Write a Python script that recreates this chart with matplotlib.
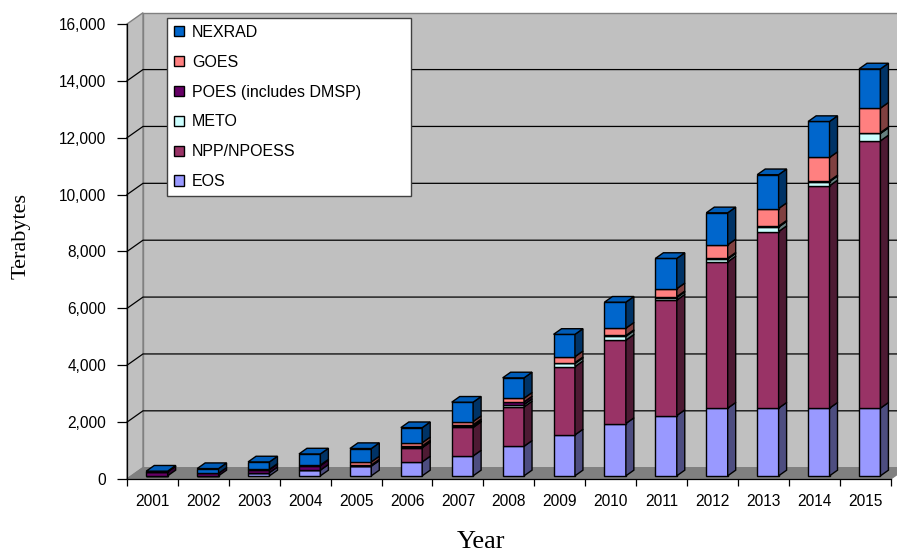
import matplotlib.pyplot as plt
import numpy as np
from matplotlib.patches import Polygon, Patch
from matplotlib.ticker import FuncFormatter

# archive volume per year, terabytes
years = ['2001', '2002', '2003', '2004', '2005', '2006', '2007', '2008',
         '2009', '2010', '2011', '2012', '2013', '2014', '2015']
eos = [0, 0, 110, 200, 340, 490, 700, 1040, 1440, 1840, 2120, 2380, 2380, 2380, 2380]
npp = [0, 0, 0, 0, 0, 500, 1000, 1385, 2400, 2930, 4060, 5145, 6210, 7820, 9400]
meto = [0, 0, 0, 0, 0, 20, 40, 80, 110, 135, 90, 100, 160, 145, 260]
poes = [140, 90, 110, 160, 40, 40, 55, 95, 30, 30, 30, 30, 30, 30, 30]
goes = [0, 0, 10, 20, 110, 115, 115, 130, 210, 257, 280, 470, 620, 820, 860]
nexrad = [25, 165, 260, 390, 470, 530, 680, 715, 785, 915, 1065, 1125, 1190, 1265, 1380]

# bottom to top: name, values, front, side, top colour
series = [
    ('EOS', eos, '#9999FF', '#4D4D80', '#8A8AE6'),
    ('NPP/NPOESS', npp, '#993366', '#4D1A33', '#8A2E5C'),
    ('METO', meto, '#CCFFFF', '#668080', '#B8E6E6'),
    ('POES (includes DMSP)', poes, '#660066', '#330033', '#5C005C'),
    ('GOES', goes, '#FF8080', '#804040', '#E67373'),
    ('NEXRAD', nexrad, '#0066CC', '#003366', '#005CB8'),
]

plt.rcParams['font.family'] = 'Liberation Sans'

fig = plt.figure(figsize=(8.97, 5.54), dpi=100)
ax = fig.add_axes([0.1416, 0.1354, 0.8514, 0.8213])
ax.set_xlim(-0.5, 14.5)
ax.set_ylim(0, 16000)
ax.patch.set_visible(False)

# depth of the 3-D box in data units
DX, DY = 0.314, 397
wall = dict(clip_on=False, lw=1, ec='#808080')
ax.add_patch(Polygon([(-0.5 + DX, DY), (14.5 + DX, DY), (14.5 + DX, 16000 + DY),
                      (-0.5 + DX, 16000 + DY)], fc='#C0C0C0', zorder=0, **wall))
ax.add_patch(Polygon([(-0.5, 0), (-0.5 + DX, DY), (-0.5 + DX, 16000 + DY),
                      (-0.5, 16000)], fc='#C0C0C0', zorder=0, **wall))
ax.add_patch(Polygon([(-0.5, 0), (14.5, 0), (14.5 + DX, DY), (-0.5 + DX, DY)],
                     fc='#808080', zorder=1, **wall))

yt = np.arange(0, 16001, 2000)
for v in yt[1:-1]:
    ax.plot([-0.5, -0.5 + DX, 14.5 + DX], [v, v + DY, v + DY], color='black',
            lw=0.9, clip_on=False, zorder=0.5)

# bars: front face, right side, top
x = np.arange(len(years))
W = 0.42
F0, F1 = 0.28, 0.78
fx, fy = F0 * DX, F0 * DY
bx, by = (F1 - F0) * DX, (F1 - F0) * DY
base = np.zeros(len(years))
top_col = [None] * len(years)
for name, vals, front, side, top in series:
    vals = np.array(vals, float)
    ax.bar(x + fx, vals, W, bottom=base + fy, color=front, edgecolor='black',
           lw=1, zorder=3)
    for i in range(len(x)):
        if vals[i] <= 0:
            continue
        xr = x[i] + fx + W / 2
        b, t = base[i] + fy, base[i] + vals[i] + fy
        ax.add_patch(Polygon([(xr, b), (xr + bx, b + by), (xr + bx, t + by), (xr, t)],
                             fc=side, ec='black', lw=1, zorder=3))
        top_col[i] = top
    base += vals

for i in range(len(x)):
    xl = x[i] + fx - W / 2
    t = base[i] + fy
    ax.add_patch(Polygon([(xl, t), (xl + W, t), (xl + W + bx, t + by), (xl + bx, t + by)],
                         fc=top_col[i], ec='black', lw=1, zorder=3))

# axes
for s in ['top', 'right']:
    ax.spines[s].set_visible(False)
ax.spines['left'].set_linewidth(0.9)
ax.spines['bottom'].set_linewidth(0.9)
ax.spines['left'].set_zorder(4)
ax.spines['bottom'].set_zorder(4)
ax.set_yticks(yt)
ax.yaxis.set_major_formatter(FuncFormatter(lambda v, p: f'{v:,.0f}'))
ax.tick_params(axis='y', length=7.2, width=0.9, pad=8, labelsize=11.2)
ax.set_xticks(x)
ax.set_xticklabels(years)
ax.set_xticks(np.arange(-0.5, 15, 1), minor=True)
ax.tick_params(axis='x', which='major', length=0, pad=11, labelsize=11.2)
ax.tick_params(axis='x', which='minor', length=5, width=0.9)

fig.text(0.023, 1 - 236 / 554, 'Terabytes', rotation=90, ha='center', va='center',
         family='Liberation Serif', fontsize=16)
fig.text(481 / 897, 1 - 542 / 554, 'Year', ha='center', va='center',
         family='Liberation Serif', fontsize=19)

handles = [Patch(fc=c, ec='black', lw=1) for _, _, c, _, _ in series][::-1]
labels = [n for n, _, _, _, _ in series][::-1]
leg = ax.legend(handles, labels, loc='upper left', mode='expand',
                bbox_to_anchor=(166.7 / 897, 1 - 18.3 / 554, 244 / 897, 0.001),
                bbox_transform=fig.transFigure, borderaxespad=0, fontsize=11.5,
                handlelength=0.62, handleheight=0.62, handletextpad=0.5,
                labelspacing=0.93, borderpad=0.45, fancybox=False, framealpha=1,
                edgecolor='#404040')
leg.get_frame().set_linewidth(1)
leg.set_zorder(5)

fig.savefig('out.png', dpi=100)
